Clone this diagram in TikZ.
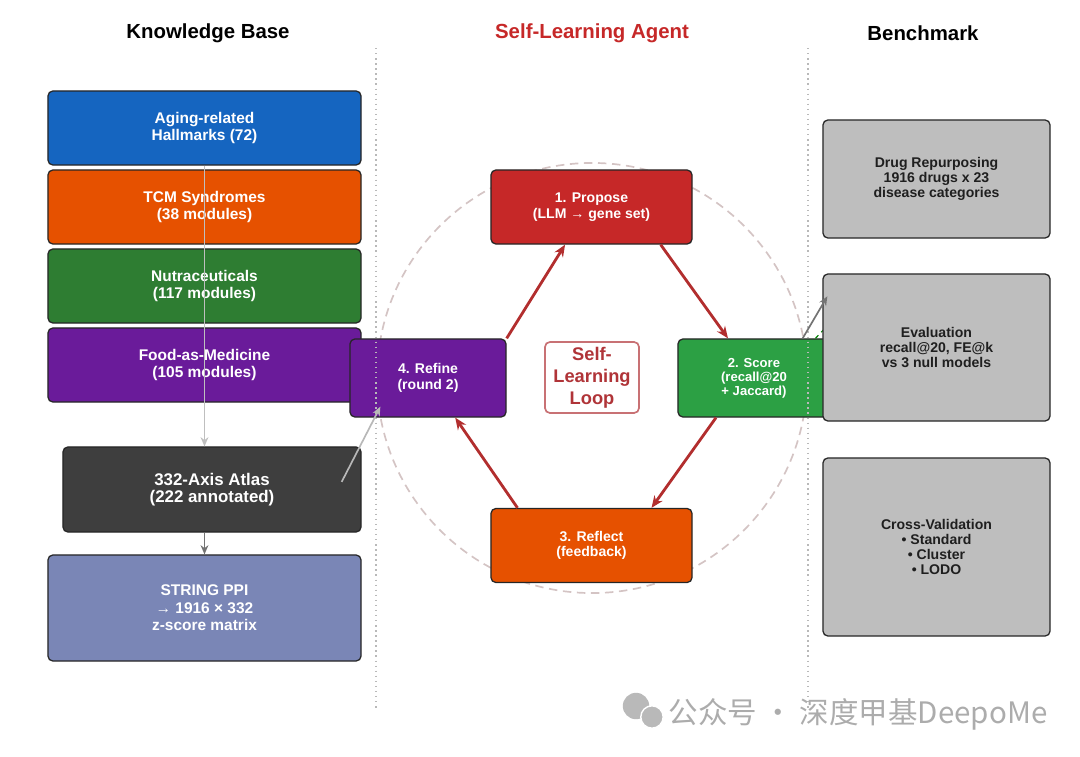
\documentclass[tikz,border=0pt]{standalone}
\usepackage{fontspec}
\setmainfont{Liberation Sans}
\newfontfamily\cjk{Noto Sans CJK SC}
\usetikzlibrary{arrows,arrows.meta,shapes,positioning,calc}

\definecolor{hallblue}{RGB}{21,101,192}
\definecolor{tcmorange}{RGB}{230,81,0}
\definecolor{nutragreen}{RGB}{46,125,50}
\definecolor{foodpurple}{RGB}{106,27,154}
\definecolor{atlasgray}{RGB}{62,62,62}
\definecolor{stringblue}{RGB}{122,134,182}
\definecolor{proposered}{RGB}{198,40,40}
\definecolor{scoregreen}{RGB}{44,160,68}
\definecolor{looptext}{RGB}{176,52,56}
\definecolor{looparrow}{RGB}{178,46,46}
\definecolor{benchgray}{RGB}{190,190,190}
\definecolor{ringgray}{RGB}{212,196,196}

\begin{document}
\begin{tikzpicture}[x=0.025cm,y=-0.025cm,
    title/.style={font=\bfseries\fontsize{14.5}{16}\selectfont},
    kb/.style={draw=black!85,line width=0.9pt,rounded corners=3.5pt,text=white,align=center,
        minimum width=7.825cm,font=\bfseries\fontsize{11}{12.5}\selectfont},
    loopbox/.style={draw=black!85,line width=0.9pt,rounded corners=3.5pt,text=white,align=center,
        font=\bfseries\fontsize{10}{11}\selectfont},
    bench/.style={draw=black!85,line width=0.9pt,rounded corners=3.5pt,fill=benchgray,text=black!88,
        align=center,minimum width=5.675cm,font=\bfseries\fontsize{10}{10.5}\selectfont},
    cyc/.style={-{Stealth[length=8.5pt,width=7pt]},line width=2pt,looparrow},
    feed/.style={-{Stealth[length=6.5pt,width=5.5pt]},line width=1.2pt}]
    \useasboundingbox (0,0) rectangle (1080,757);

    % Titles
    \node[title] (kbtitle) at (208,33) {Knowledge Base};
    \node[title,text=proposered] (agenttitle) at (592,33) {Self-Learning Agent};
    \node[title] (benchtitle) at (923,33) {Benchmark};

    % Loop ring
    \draw[ringgray,line width=1.2pt,dash pattern=on 6pt off 4pt] (592,378) circle (5.375cm);

    % Knowledge base
    \node[kb,fill=hallblue,minimum height=1.85cm] (aging) at (204.5,128) {Aging-related\\Hallmarks (72)};
    \node[kb,fill=tcmorange,minimum height=1.85cm] (tcm) at (204.5,207) {TCM Syndromes\\(38 modules)};
    \node[kb,fill=nutragreen,minimum height=1.85cm] (nutra) at (204.5,286) {Nutraceuticals\\(117 modules)};
    \node[kb,fill=foodpurple,minimum height=1.85cm] (food) at (204.5,365) {Food-as-Medicine\\(105 modules)};
    \node[kb,fill=atlasgray,minimum width=7.45cm,minimum height=2.125cm,
        font=\bfseries\fontsize{12}{12.5}\selectfont] (atlas) at (212,489.5) {332-Axis Atlas\\(222 annotated)};
    \node[kb,fill=stringblue,minimum height=2.65cm] (string) at (204.5,608) {STRING PPI\\→ 1916 × 332\\z-score matrix};

    % Agent loop
    \node[loopbox,fill=proposered,minimum width=5.025cm,minimum height=1.85cm] (propose) at (591.5,207) {1. Propose\\(LLM → gene set)};
    \node[loopbox,fill=scoregreen,minimum width=3.8cm,minimum height=1.95cm,
        font=\bfseries\fontsize{9.3}{10}\selectfont] (score) at (754,378) {2. Score\\(recall@20\\+ Jaccard)};
    \node[loopbox,fill=tcmorange,minimum width=5.025cm,minimum height=1.85cm] (reflect) at (591.5,545.5) {3. Reflect\\(feedback)};
    \node[loopbox,fill=foodpurple,minimum width=3.9cm,minimum height=1.95cm] (refine) at (428,378) {4. Refine\\(round 2)};
    \node[draw=looptext!70,fill=white,line width=1.2pt,rounded corners=3.5pt,text=looptext,align=center,
        minimum width=2.35cm,minimum height=1.775cm,font=\bfseries\fontsize{13}{15.5}\selectfont] (loop) at (592,377.5) {Self-\\Learning\\Loop};

    \draw[cyc] (refine.north east) -- ([xshift=-0.66cm]propose.south);
    \draw[cyc] ([xshift=-0.8cm]propose.south east) -- ([xshift=-0.65cm]score.north);
    \draw[cyc] ([xshift=-0.95cm]score.south) -- ([xshift=1.5cm]reflect.north);
    \draw[cyc] ([xshift=-1.85cm]reflect.north) -- ([xshift=0.68cm]refine.south);

    % Separators
    \draw[gray!55,line width=1pt,dash pattern=on 1pt off 2.6pt] (376,48) -- (376,710);
    \draw[gray!55,line width=1pt,dash pattern=on 1pt off 2.6pt] (808,48) -- (808,710);

    \coordinate (evalin) at (829,324);
    \draw[green!50!black,dashed,line width=0.8pt] ([xshift=-0.38cm]score.north east) -- (evalin);

    % Benchmark
    \node[bench,minimum height=2.95cm] (drug) at (936.5,179) {Drug Repurposing\\1916 drugs x 23\\disease categories};
    \node[bench,minimum height=3.675cm] (evaluation) at (936.5,347.5) {Evaluation\\recall@20, FE@k\\vs 3 null models};
    \node[bench,minimum height=4.45cm] (crossval) at (936.5,547) {Cross-Validation\\• Standard\\• Cluster\\• LODO};

    % Feeds
    \draw[feed,black!25] (aging.south) -- (aging.south |- atlas.north);
    \draw[feed,black!55] (string.north |- atlas.south) -- (string.north);
    \draw[feed,black!28] ([xshift=-0.5cm,yshift=0.19cm]atlas.east) -- ([xshift=0.775cm,yshift=0.275cm]refine.south west);
    \draw[feed,black!55] ([xshift=-0.7cm]score.north east) -- ([xshift=0.125cm,yshift=-0.575cm]evaluation.north west);

    % Watermark
    \fill[gray!55] (636,706) circle (0.33cm);
    \filldraw[gray!55,draw=white,line width=1pt] (652,717) circle (0.28cm);
    \node[text=gray!65,font=\cjk\fontsize{21}{23}\selectfont] (mark) at (858,714) {公众号 · 深度甲基DeepoMe};
\end{tikzpicture}
\end{document}
